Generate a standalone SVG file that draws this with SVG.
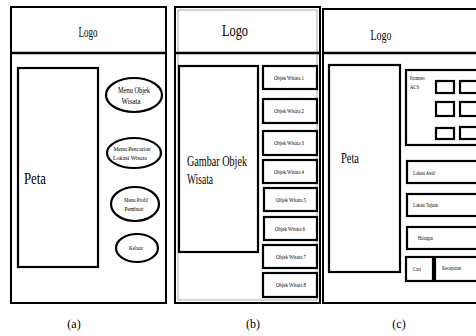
<svg xmlns="http://www.w3.org/2000/svg" width="476" height="336" viewBox="0 0 476 336">
<style>
.b{fill:#fff;stroke:#000;stroke-width:2}
.s{fill:#fff;stroke:#000;stroke-width:2.2}
text{font-family:"Liberation Serif","Times New Roman",serif;fill:#000}
.c{text-anchor:middle}
</style>
<rect width="476" height="336" fill="#fff"/>
<g id="panel-a">
<rect class="b" x="11" y="7" width="155" height="296"/>
<line x1="11" y1="53" x2="166" y2="53" stroke="#000" stroke-width="2.5"/>
<text x="88" y="37" font-size="14" class="c" textLength="19" lengthAdjust="spacingAndGlyphs">Logo</text>
<g id="a-peta"><rect class="s" x="18" y="68" width="80" height="199"/>
<text x="24" y="184" font-size="16" textLength="22" lengthAdjust="spacingAndGlyphs">Peta</text></g>
<g id="a-menu1"><ellipse class="s" cx="134" cy="95" rx="28" ry="17"/>
<text x="134" y="93" font-size="8" class="c" textLength="32" lengthAdjust="spacingAndGlyphs">Menu Objek</text>
<text x="131" y="104" font-size="8" class="c" textLength="19" lengthAdjust="spacingAndGlyphs">Wisata</text></g>
<g id="a-menu2"><ellipse class="s" cx="134" cy="153" rx="27" ry="15"/>
<text x="132" y="151" font-size="6" class="c" textLength="37" lengthAdjust="spacingAndGlyphs">Menu Pencarian</text>
<text x="130" y="160" font-size="6" class="c" textLength="34" lengthAdjust="spacingAndGlyphs">Lokasi Wisata</text></g>
<g id="a-menu3"><ellipse class="s" cx="135" cy="204" rx="24" ry="17"/>
<text x="136" y="202" font-size="6" class="c" textLength="24" lengthAdjust="spacingAndGlyphs">Menu Profil</text>
<text x="134" y="211" font-size="6" class="c" textLength="19" lengthAdjust="spacingAndGlyphs">Pembuat</text></g>
<g id="a-keluar"><ellipse class="s" cx="137" cy="248" rx="21" ry="14"/>
<text x="136" y="250" font-size="6" class="c" textLength="14" lengthAdjust="spacingAndGlyphs">Keluar</text></g>
<text x="74" y="328" font-size="12" class="c">(a)</text>
</g>
<g id="panel-b">
<rect class="b" x="175" y="7" width="145" height="296"/>
<rect x="178" y="10" width="139" height="290" fill="none" stroke="#555" stroke-width="0.5"/>
<line x1="175" y1="53" x2="320" y2="53" stroke="#000" stroke-width="2.5"/>
<text x="235" y="36" font-size="17" class="c" textLength="26" lengthAdjust="spacingAndGlyphs">Logo</text>
<g id="b-gambar"><rect class="s" x="179" y="66" width="79" height="186"/>
<text x="187" y="166" font-size="15" textLength="60" lengthAdjust="spacingAndGlyphs">Gambar Objek</text>
<text x="187" y="184" font-size="15" textLength="26" lengthAdjust="spacingAndGlyphs">Wisata</text></g>
<g id="b-o1"><rect class="s" x="263" y="66" width="54" height="23"/><text x="289" y="80" font-size="6" class="c" textLength="30" lengthAdjust="spacingAndGlyphs">Objek Wisata 1</text></g>
<g id="b-o2"><rect class="s" x="263" y="99" width="54" height="24"/><text x="289" y="113" font-size="6" class="c" textLength="30" lengthAdjust="spacingAndGlyphs">Objek Wisata 2</text></g>
<g id="b-o3"><rect class="s" x="263" y="131" width="54" height="24"/><text x="289" y="145" font-size="6" class="c" textLength="30" lengthAdjust="spacingAndGlyphs">Objek Wisata 3</text></g>
<g id="b-o4"><rect class="s" x="263" y="160" width="54" height="23"/><text x="289" y="174" font-size="6" class="c" textLength="30" lengthAdjust="spacingAndGlyphs">Objek Wisata 4</text></g>
<g id="b-o5"><rect class="s" x="264" y="188" width="53" height="23"/><text x="291" y="202" font-size="6" class="c" textLength="30" lengthAdjust="spacingAndGlyphs">Objek Wisata 5</text></g>
<g id="b-o6"><rect class="s" x="264" y="217" width="53" height="23"/><text x="290" y="231" font-size="6" class="c" textLength="30" lengthAdjust="spacingAndGlyphs">Objek Wisata 6</text></g>
<g id="b-o7"><rect class="s" x="263" y="245" width="54" height="23"/><text x="291" y="259" font-size="6" class="c" textLength="30" lengthAdjust="spacingAndGlyphs">Objek Wisata 7</text></g>
<g id="b-o8"><rect class="s" x="263" y="273" width="54" height="24"/><text x="291" y="287" font-size="6" class="c" textLength="30" lengthAdjust="spacingAndGlyphs">Objek Wisata 8</text></g>
<text x="253" y="328" font-size="12" class="c">(b)</text>
</g>
<g id="panel-c">
<rect class="b" x="323" y="9" width="160" height="294"/>
<line x1="323" y1="53" x2="476" y2="53" stroke="#000" stroke-width="2.5"/>
<text x="381" y="40" font-size="15" class="c" textLength="21" lengthAdjust="spacingAndGlyphs">Logo</text>
<g id="c-peta"><rect class="s" x="329" y="65" width="71" height="207"/>
<text x="341" y="163" font-size="15" textLength="18" lengthAdjust="spacingAndGlyphs">Peta</text></g>
<g id="c-param"><rect class="s" x="406" y="70" width="76" height="75"/>
<text x="410" y="80" font-size="6" textLength="15" lengthAdjust="spacingAndGlyphs">Parameter</text>
<text x="410" y="89" font-size="6" textLength="9" lengthAdjust="spacingAndGlyphs">ACS</text>
<rect class="s" x="436" y="81" width="18" height="12"/>
<rect class="s" x="460" y="81" width="20" height="12"/>
<rect class="s" x="436" y="102" width="18" height="14"/>
<rect class="s" x="460" y="102" width="20" height="14"/>
<rect class="s" x="436" y="128" width="18" height="11"/>
<rect class="s" x="460" y="127" width="20" height="12"/></g>
<g id="c-awal"><rect class="s" x="407" y="161" width="76" height="22"/>
<text x="413" y="175" font-size="6" textLength="22" lengthAdjust="spacingAndGlyphs">Lokasi Awal</text></g>
<g id="c-tujuan"><rect class="s" x="407" y="194" width="76" height="22"/>
<text x="413" y="207" font-size="6" textLength="25" lengthAdjust="spacingAndGlyphs">Lokasi Tujuan</text></g>
<g id="c-halangan"><rect class="s" x="407" y="227" width="76" height="22"/>
<text x="418" y="240" font-size="6" textLength="15" lengthAdjust="spacingAndGlyphs">Halangan</text></g>
<g id="c-cari"><rect class="s" x="406" y="257" width="27" height="24"/>
<text x="413" y="271" font-size="6" textLength="8" lengthAdjust="spacingAndGlyphs">Cari</text></g>
<g id="c-kecepatan"><rect class="s" x="435" y="257" width="48" height="24"/>
<text x="442" y="270" font-size="6" textLength="19" lengthAdjust="spacingAndGlyphs">Kecepatan</text></g>
<text x="399" y="328" font-size="12" class="c">(c)</text>
</g>
<g id="connectors"></g>
</svg>
